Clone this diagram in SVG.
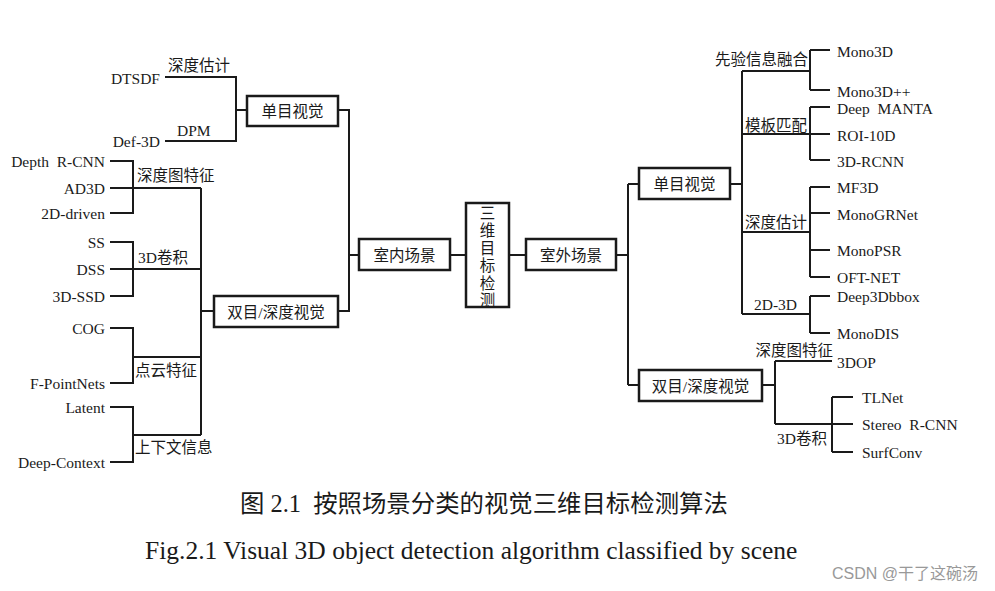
<svg xmlns="http://www.w3.org/2000/svg" width="995" height="591" viewBox="0 0 995 591">
<style>
text{font-family:"Liberation Serif","Noto Sans CJK SC",serif;fill:#1a1a1a;dominant-baseline:central;white-space:pre}
.lat{font-size:15.5px}
.cjk{font-size:15.5px}
.end{text-anchor:end}
.mid{text-anchor:middle}
.box{fill:#fff;stroke:#1a1a1a;stroke-width:2.5}
#connectors path{fill:none;stroke:#1a1a1a;stroke-width:2}
</style>
<rect width="995" height="591" fill="#fff"/>
<g id="connectors">
<path d="M165 77H236V141H165M236 110H247M338 110H349V311H338"/>
<path d="M110 161H133V213H110M110 188H201M201 188V435M201 311H214"/>
<path d="M110 242H133V296H110M110 269H201"/>
<path d="M110 328H133V383H110M133 357H201"/>
<path d="M110 407H133V462H110M133 435H201"/>
<path d="M349 255H359M450 255H466M509 255H526M616 255H628M628 184V385M628 184H639M628 385H639"/>
<path d="M730 184H742M742 71V314"/>
<path d="M742 71H810M810 50V90M810 50H830M810 90H830"/>
<path d="M742 134H830M810 107V160M810 107H830M810 160H830"/>
<path d="M742 232H810M810 187V277M810 187H830M810 213H830M810 250H830M810 277H830"/>
<path d="M742 314H810M810 296V333M810 296H830M810 333H830"/>
<path d="M762 385H775M775 361V424M775 361H832M775 424H853M832 397V452M832 397H853M832 452H853"/>
</g>
<g id="n-root"><rect class="box" x="466" y="203" width="43" height="104"/>
<text class="cjk mid" x="487.5" y="213">三</text><text class="cjk mid" x="487.5" y="230.5">维</text><text class="cjk mid" x="487.5" y="248">目</text><text class="cjk mid" x="487.5" y="265.5">标</text><text class="cjk mid" x="487.5" y="283">检</text><text class="cjk mid" x="487.5" y="300">测</text></g>
<g id="n-indoor"><rect class="box" x="359" y="239" width="91" height="31"/><text class="cjk mid" x="404.5" y="255">室内场景</text></g>
<g id="n-outdoor"><rect class="box" x="526" y="239" width="90" height="31"/><text class="cjk mid" x="571" y="255">室外场景</text></g>
<g id="n-in-mono"><rect class="box" x="247" y="96" width="91" height="30"/><text class="cjk mid" x="292.5" y="111">单目视觉</text></g>
<g id="n-in-stereo"><rect class="box" x="214" y="296" width="124" height="31"/><text class="cjk mid" x="276" y="312">双目/深度视觉</text></g>
<g id="n-out-mono"><rect class="box" x="639" y="168" width="91" height="31"/><text class="cjk mid" x="684.5" y="184">单目视觉</text></g>
<g id="n-out-stereo"><rect class="box" x="639" y="370" width="123" height="31"/><text class="cjk mid" x="700.5" y="386">双目/深度视觉</text></g>
<g id="g-l-depthest"><text class="cjk" x="168" y="65">深度估计</text><text class="lat end" x="160" y="78">DTSDF</text></g>
<g id="g-l-dpm"><text class="lat" x="177" y="130">DPM</text><text class="lat end" x="160" y="141">Def-3D</text></g>
<g id="g-l-depthmap"><text class="cjk" x="137" y="175">深度图特征</text><text class="lat end" x="105" y="161">Depth  R-CNN</text><text class="lat end" x="105" y="188">AD3D</text><text class="lat end" x="105" y="213">2D-driven</text></g>
<g id="g-l-3dconv"><text class="cjk" x="138" y="257">3D卷积</text><text class="lat end" x="105" y="242">SS</text><text class="lat end" x="105" y="269">DSS</text><text class="lat end" x="105" y="296">3D-SSD</text></g>
<g id="g-l-pc"><text class="cjk" x="135" y="370">点云特征</text><text class="lat end" x="105" y="328">COG</text><text class="lat end" x="105" y="383">F-PointNets</text></g>
<g id="g-l-ctx"><text class="cjk" x="135" y="447">上下文信息</text><text class="lat end" x="105" y="407">Latent</text><text class="lat end" x="105" y="462">Deep-Context</text></g>
<g id="g-r-prior"><text class="cjk end" x="808" y="59">先验信息融合</text><text class="lat" x="837" y="51">Mono3D</text><text class="lat" x="837" y="91">Mono3D++</text></g>
<g id="g-r-tmpl"><text class="cjk end" x="807" y="125">模板匹配</text><text class="lat" x="837" y="108">Deep  MANTA</text><text class="lat" x="837" y="135">ROI-10D</text><text class="lat" x="837" y="161">3D-RCNN</text></g>
<g id="g-r-depthest"><text class="cjk end" x="807" y="222">深度估计</text><text class="lat" x="837" y="187">MF3D</text><text class="lat" x="837" y="214">MonoGRNet</text><text class="lat" x="837" y="250">MonoPSR</text><text class="lat" x="837" y="277">OFT-NET</text></g>
<g id="g-r-2d3d"><text class="lat end" x="797" y="304">2D-3D</text><text class="lat" x="837" y="296">Deep3Dbbox</text><text class="lat" x="837" y="333">MonoDIS</text></g>
<g id="g-r-depthmap"><text class="cjk end" x="833" y="350">深度图特征</text><text class="lat" x="837" y="362">3DOP</text></g>
<g id="g-r-3dconv"><text class="cjk end" x="827" y="438">3D卷积</text><text class="lat" x="862" y="397">TLNet</text><text class="lat" x="862" y="424">Stereo  R-CNN</text><text class="lat" x="862" y="452">SurfConv</text></g>
<text x="240" y="503" style="font-size:24.4px">图 2.1  按照场景分类的视觉三维目标检测算法</text>
<text x="145" y="550" style="font-size:25.5px">Fig.2.1 Visual 3D object detection algorithm classified by scene</text>
<text x="832" y="573" style="font-size:16px;fill:#999;font-family:'Liberation Sans','Noto Sans CJK SC',sans-serif">CSDN @干了这碗汤</text>
</svg>
